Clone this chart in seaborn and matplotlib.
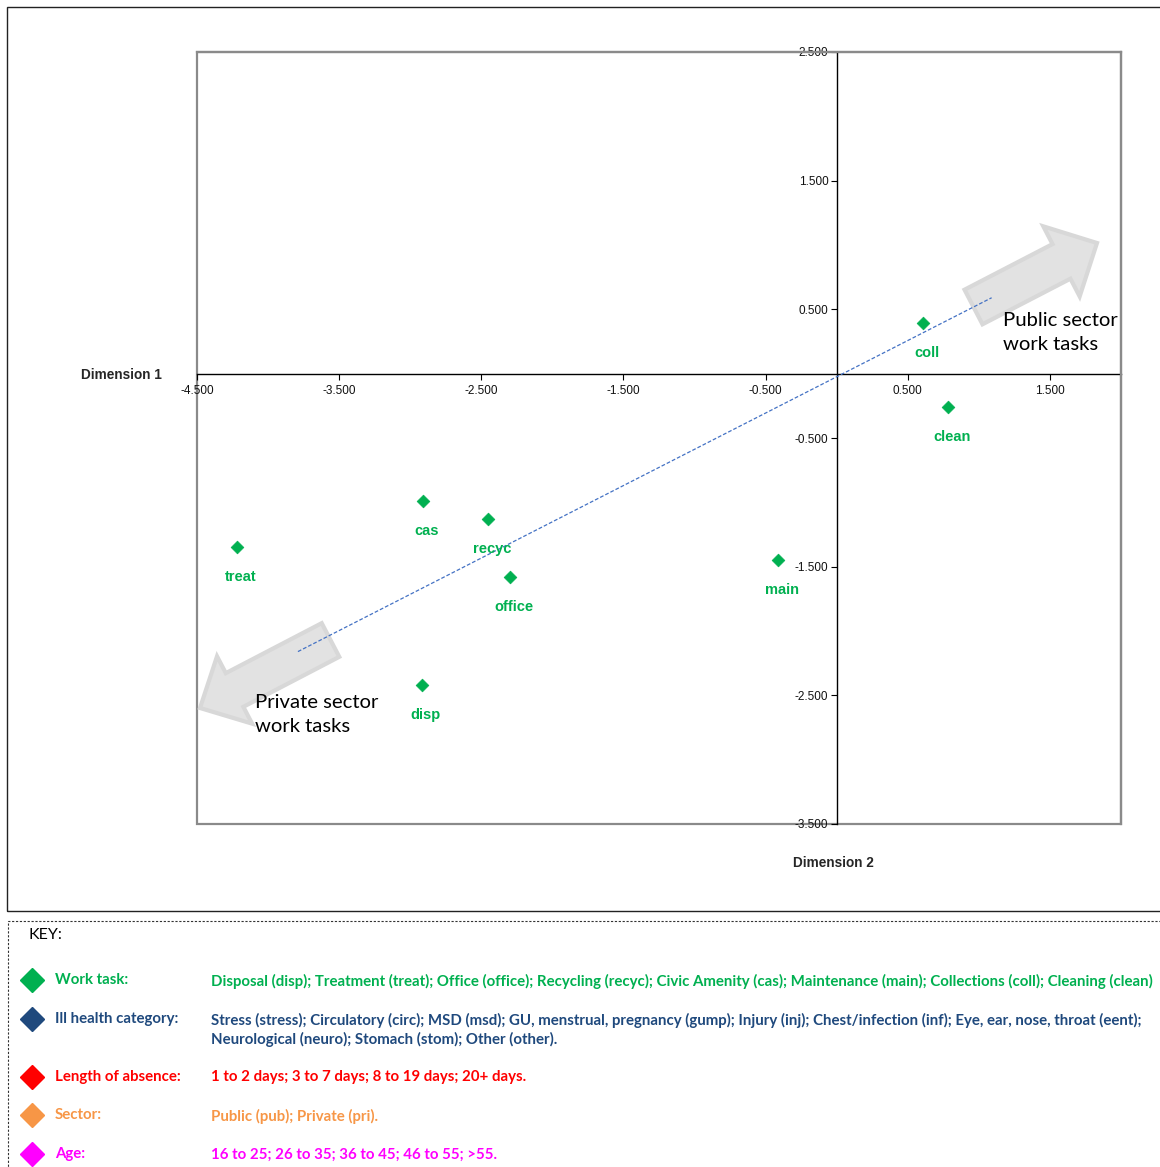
import numpy as np
import pandas as pd
import matplotlib
matplotlib.use("Agg")
import matplotlib.pyplot as plt
from matplotlib import font_manager
from matplotlib.patches import Polygon, Rectangle
from matplotlib.lines import Line2D
import seaborn as sns

# ---------------------------------------------------------------- data
tasks = ["coll", "clean", "cas", "recyc", "treat", "office", "main", "disp"]
dim1 = [0.61, 0.78, -2.91, -2.45, -4.22, -2.30, -0.41, -2.92]
dim2 = [0.39, -0.26, -0.99, -1.13, -1.35, -1.58, -1.45, -2.42]

# dashed public/private trend line
trend_x = [-3.79, 1.09]
trend_y = [-2.16, 0.59]

x_ticks = [-4.5, -3.5, -2.5, -1.5, -0.5, 0.5, 1.5]
y_ticks = [2.5, 1.5, 0.5, -0.5, -1.5, -2.5, -3.5]

key_labels = ["Work task:", "Ill health category:", "Length of absence:", "Sector:", "Age:"]
key_values = [
    "Disposal (disp); Treatment (treat); Office (office); Recycling (recyc); Civic Amenity (cas); "
    "Maintenance (main); Collections (coll); Cleaning (clean)",
    "Stress (stress); Circulatory (circ); MSD (msd); GU, menstrual, pregnancy (gump); Injury (inj); "
    "Chest/infection (inf); Eye, ear, nose, throat (eent);\nNeurological (neuro); Stomach (stom); Other (other).",
    "1 to 2 days; 3 to 7 days; 8 to 19 days; 20+ days.",
    "Public (pub); Private (pri).",
    "16 to 25; 26 to 35; 36 to 45; 46 to 55; >55.",
]
key_colors = ["#00B050", "#1F497D", "#FF0000", "#F79646", "#FF00FF"]

# ---------------------------------------------------------------- fonts
sns.set_style("white")
names = {f.name for f in font_manager.fontManager.ttflist}
if "Liberation Sans Narrow" in names:
    arial, nscale = "Liberation Sans Narrow", 1.0
else:
    arial, nscale = "Liberation Sans", 0.86
calibri = "Lato"
plt.rcParams["font.family"] = [arial, "DejaVu Sans"]

W, H = 1160, 1167
fig = plt.figure(figsize=(W / 100, H / 100), dpi=100)


def fx(x):
    return x / W


def fy(y):
    return 1 - y / H


ax = fig.add_axes([fx(197), fy(824), (1121 - 197) / W, (824 - 52) / H])
ax.set_xlim(-4.5, 2.0)
ax.set_ylim(-3.5, 2.5)

# ---------------------------------------------------------------- block arrows
def block_arrow(tail, tip, shaft_w, head_w, head_len):
    tail = np.array(tail, float)
    tip = np.array(tip, float)
    u = (tip - tail) / np.linalg.norm(tip - tail)
    n = np.array([-u[1], u[0]])
    base = tip - u * head_len
    pts = [tail + n * shaft_w / 2, base + n * shaft_w / 2, base + n * head_w / 2, tip,
           base - n * head_w / 2, base - n * shaft_w / 2, tail - n * shaft_w / 2]
    pts = [(fx(p[0]), fy(p[1])) for p in pts]
    poly = Polygon(pts, closed=True, transform=fig.transFigure, facecolor="#e2e2e2",
                   edgecolor="#d8d8d8", linewidth=3, joinstyle="miter", clip_on=False, zorder=1)
    ax.add_patch(poly)


block_arrow((973.5, 307), (1097, 243), 39, 79, 40)
block_arrow((330.5, 640), (200, 708), 38, 76, 39)

# ---------------------------------------------------------------- marks
df = pd.DataFrame({"task": tasks, "dim1": dim1, "dim2": dim2})
sns.lineplot(x=trend_x, y=trend_y, ax=ax, color="#4472C4", linewidth=0.9,
             linestyle=(0, (3, 1.6)), zorder=2)
sns.scatterplot(data=df, x="dim1", y="dim2", ax=ax, marker="D", s=42,
                color="#00B050", edgecolor="#00B050", linewidth=0.5, zorder=3)
for t, x, y in zip(tasks, dim1, dim2):
    ax.annotate(t, (x, y), xytext=(4, -30), textcoords="offset pixels",
                ha="center", va="center", color="#00B050", fontweight="bold",
                fontsize=12.2 * nscale, fontfamily=arial)

# ---------------------------------------------------------------- axes styling
ax.set_xlabel("")
ax.set_ylabel("")
for s in ["left", "bottom"]:
    ax.spines[s].set_position(("data", 0))
    ax.spines[s].set_color("black")
    ax.spines[s].set_linewidth(1.0)
    ax.spines[s].set_zorder(1.5)
for s in ["top", "right"]:
    ax.spines[s].set_color("#8a8a8a")
    ax.spines[s].set_linewidth(1.6)
ax.add_patch(Rectangle((0, 0), 1, 1, transform=ax.transAxes, fill=False,
                       edgecolor="#8a8a8a", linewidth=1.6, clip_on=False, zorder=0.5))

ax.set_xticks(x_ticks)
ax.set_yticks(y_ticks)
ax.set_xticklabels([f"{v:.3f}" for v in x_ticks])
ax.set_yticklabels([f"{v:.3f}" for v in y_ticks])
ax.tick_params(axis="both", direction="out", length=4, width=0.8, color="black",
               labelsize=9.8 * nscale, labelcolor="#111111", pad=2)
ax.tick_params(axis="x", bottom=True, pad=4)
ax.tick_params(axis="y", left=True)
for lab in ax.get_xticklabels() + ax.get_yticklabels():
    lab.set_fontfamily(arial)

# ---------------------------------------------------------------- text annotations
fig.text(fx(1003), fy(333), "Public sector\nwork tasks", ha="left", va="center",
         fontsize=14.6, fontfamily=calibri, color="black", linespacing=1.5, zorder=5)
fig.text(fx(255), fy(715), "Private sector\nwork tasks", ha="left", va="center",
         fontsize=14.6, fontfamily=calibri, color="black", linespacing=1.5, zorder=5)
fig.text(fx(162), fy(375), "Dimension 1", ha="right", va="center",
         fontsize=11.4 * nscale, fontweight="bold", fontfamily=arial)
fig.text(fx(833), fy(863), "Dimension 2", ha="center", va="center",
         fontsize=11.4 * nscale, fontweight="bold", fontfamily=arial)

# ---------------------------------------------------------------- frames
fig.add_artist(Rectangle((fx(7), fy(911)), fx(1170) - fx(7), fy(7) - fy(911),
                         transform=fig.transFigure, fill=False, edgecolor="#222222",
                         linewidth=1.0))
fig.add_artist(Rectangle((fx(8), fy(1180)), fx(1170) - fx(8), fy(921) - fy(1180),
                         transform=fig.transFigure, fill=False, edgecolor="#333333",
                         linewidth=0.8, linestyle=(0, (2, 1.5))))

# ---------------------------------------------------------------- key
fig.text(fx(28), fy(935), "KEY:", ha="left", va="center", fontsize=11.5,
         fontfamily=calibri, color="black")
row_y = [980, 1019, 1077, 1115, 1154]
for lab, val, col, y in zip(key_labels, key_values, key_colors, row_y):
    fig.add_artist(Line2D([fx(32)], [fy(y)], marker="D", markersize=12.5,
                          color=col, markeredgecolor=col, transform=fig.transFigure))
    fig.text(fx(55), fy(y), lab, ha="left", va="center", fontsize=10.8,
             fontweight="bold", fontfamily=calibri, color=col)
    fig.text(fx(211), fy(y) + 6.5 / H, val, ha="left", va="top", fontsize=10.8,
             fontweight="bold", fontfamily=calibri, color=col, linespacing=1.33)

fig.savefig("out.png", dpi=100)
